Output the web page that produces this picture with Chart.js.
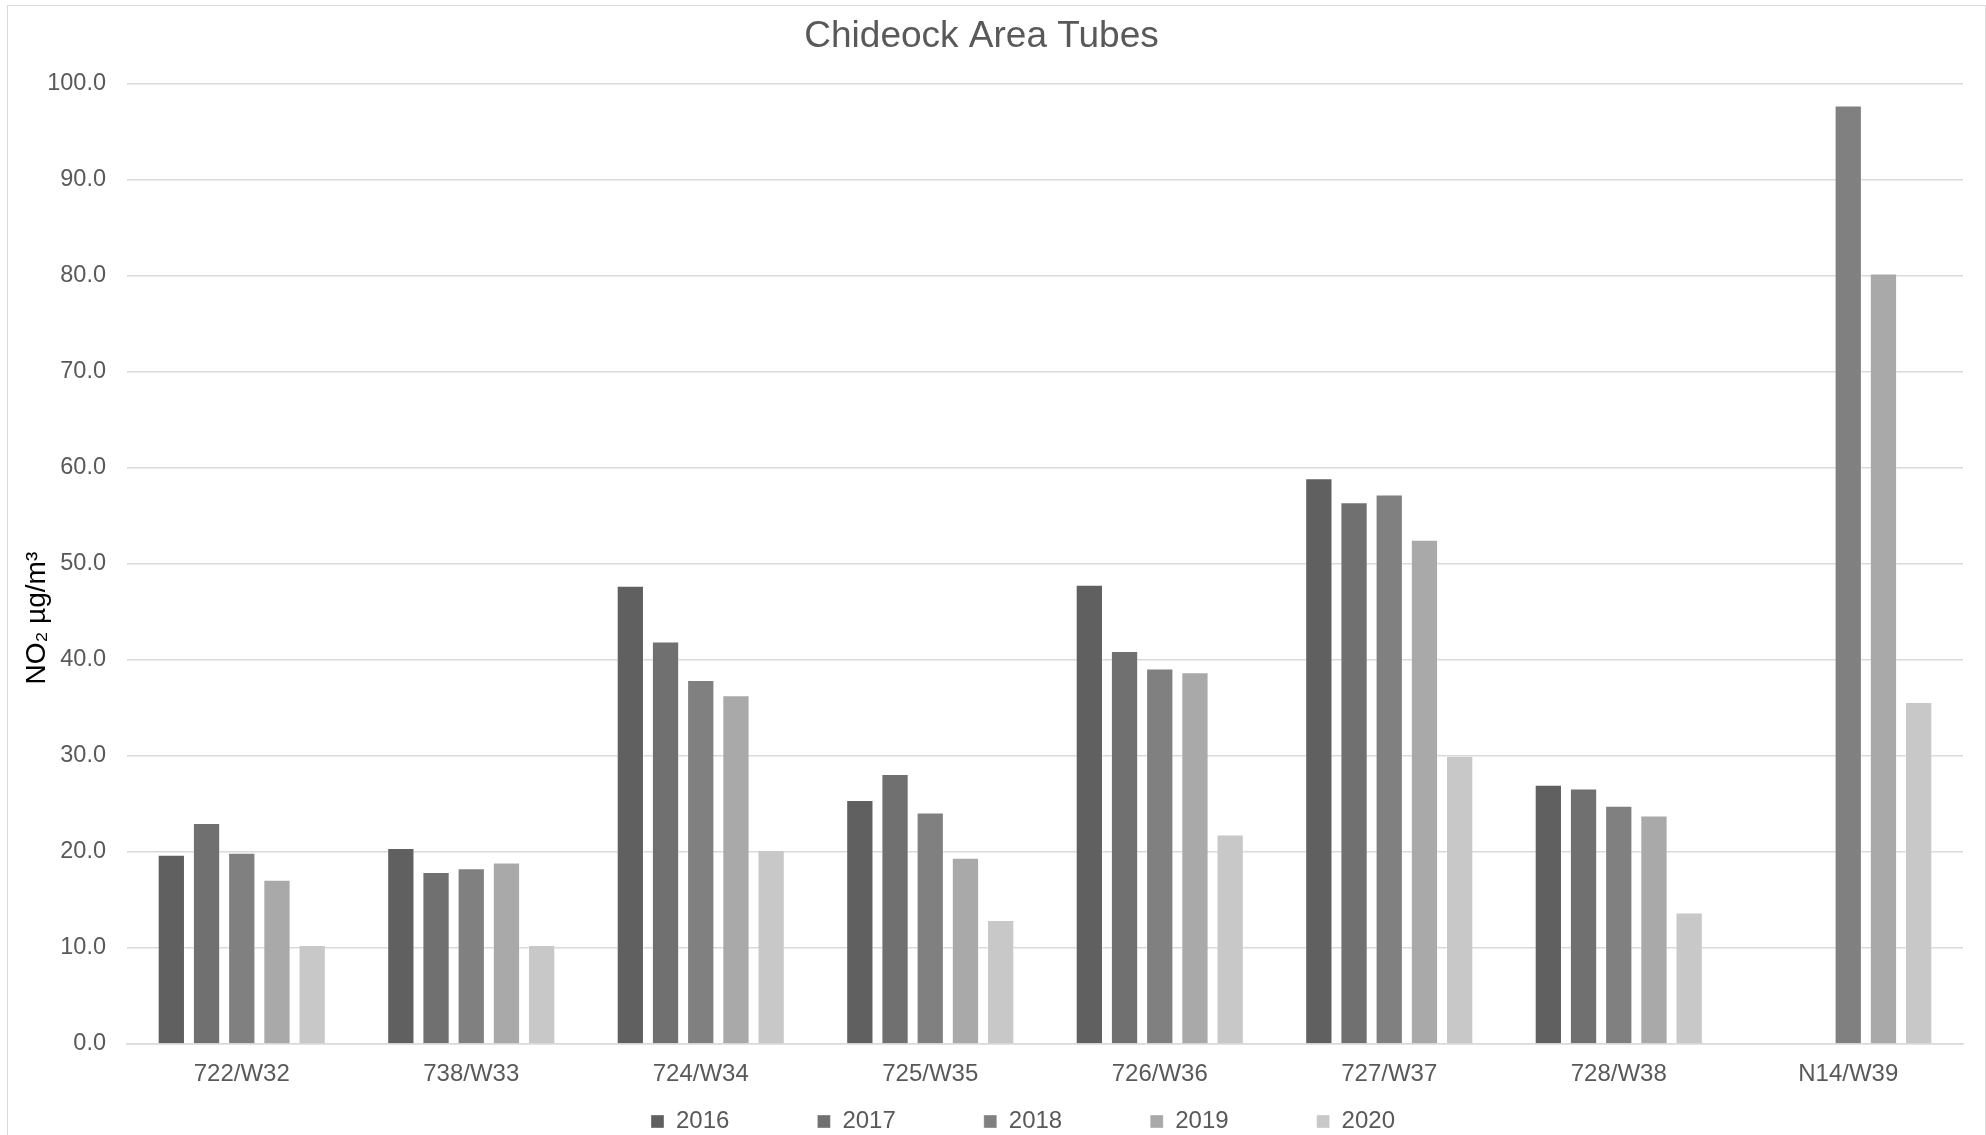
<!DOCTYPE html>
<html>
<head>
<meta charset="utf-8">
<title>Chideock Area Tubes</title>
<script src="https://cdn.jsdelivr.net/npm/chart.js@4.4.1/dist/chart.umd.min.js"></script>
<style>
    html, body {
        margin: 0;
        padding: 0;
        background: #ffffff;
        overflow: hidden;
    }
    #wrap {
        position: relative;
        width: 1986px;
        height: 1135px;
    }
    #frame {
        position: absolute;
        left: 7px;
        top: 5px;
        width: 1977px;
        height: 1200px;
        border: 1px solid #d9d9d9;
        pointer-events: none;
    }
    #tubeChart {
        position: absolute;
        left: 0;
        top: 0;
    }
</style>
</head>
<body>
<div id="wrap">
    <canvas id="tubeChart" width="1986" height="1150"></canvas>
    <div id="frame"></div>
</div>

<script>
const sites = ['722/W32', '738/W33', '724/W34', '725/W35', '726/W36', '727/W37', '728/W38', 'N14/W39'];
const years = ['2016', '2017', '2018', '2019', '2020'];

// annual mean NO2 (ug/m3) - N14/W39 had no tube in 2016/2017
const no2_2016 = [19.7, 20.4, 47.7, 25.4, 47.8, 58.9, 27.0, null];
const no2_2017 = [23.0, 17.9, 41.9, 28.1, 40.9, 56.4, 26.6, null];
const no2_2018 = [19.9, 18.3, 37.9, 24.1, 39.1, 57.2, 24.8, 97.7];
const no2_2019 = [17.1, 18.9, 36.3, 19.4, 38.7, 52.5, 23.8, 80.2];
const no2_2020 = [10.3, 10.3, 20.2, 12.9, 21.8, 30.0, 13.7, 35.6];

const yearColours = ['#606060', '#707070', '#808080', '#a9a9a9', '#c8c8c8'];

const textGrey = '#595959';
const gridGrey = '#d9d9d9';
const fontFamily = "'Liberation Sans', Arial, Helvetica, sans-serif";

// pad legend text so the items spread out like the excel one
const legendGap = ' '.repeat(12);

// nudge the legend a bit to the right of centre
const legendShift = {
    id: 'legendShift',
    afterLayout(chart) {
        if (chart.legend) {
            chart.legend.left += 83;
        }
    }
};

function buildChart() {
    const allSeries = [no2_2016, no2_2017, no2_2018, no2_2019, no2_2020];

    const datasets = years.map((year, i) => ({
        label: year,
        data: allSeries[i],
        backgroundColor: yearColours[i],
        borderColor: 'rgba(255, 255, 255, 0.35)',
        borderWidth: 1,
        categoryPercentage: 0.767,
        barPercentage: 0.775
    }));

    const ctx = document.getElementById('tubeChart').getContext('2d');

    new Chart(ctx, {
        type: 'bar',
        data: {
            labels: sites,
            datasets: datasets
        },
        options: {
            responsive: false,
            animation: false,
            devicePixelRatio: 1,
            layout: {
                padding: { left: 0, right: 23, top: 0, bottom: 6.5 }
            },
            plugins: {
                title: {
                    display: true,
                    text: 'Chideock Area Tubes',
                    color: textGrey,
                    font: { family: fontFamily, size: 37, weight: 'normal' },
                    padding: { top: 15, bottom: 24 }
                },
                legend: {
                    display: true,
                    position: 'bottom',
                    labels: {
                        color: textGrey,
                        font: { family: fontFamily, size: 24 },
                        boxWidth: 13,
                        boxHeight: 13,
                        padding: 8,
                        generateLabels(chart) {
                            const items = Chart.defaults.plugins.legend.labels.generateLabels(chart);
                            items.forEach((item, i) => {
                                if (i < items.length - 1) item.text = item.text + legendGap;
                            });
                            return items;
                        }
                    }
                },
                tooltip: { enabled: false }
            },
            scales: {
                x: {
                    grid: { display: false, drawTicks: false },
                    border: { display: true, color: gridGrey, width: 1.5 },
                    ticks: {
                        color: textGrey,
                        font: { family: fontFamily, size: 24 },
                        padding: 16,
                        maxRotation: 0
                    },
                    afterFit(scale) {
                        scale.height = 57.5;
                    }
                },
                y: {
                    min: 0,
                    max: 100,
                    grid: { color: gridGrey, lineWidth: 1.5, drawTicks: false },
                    border: { display: false },
                    ticks: {
                        stepSize: 10,
                        color: textGrey,
                        font: { family: fontFamily, size: 23.5 },
                        padding: 21,
                        callback: value => value.toFixed(1)
                    },
                    title: {
                        display: true,
                        // trailing spaces push the visible text down a little, as in the original
                        text: 'NO\u2082 \u00b5g/m\u00b3' + ' '.repeat(14),
                        color: '#000000',
                        font: { family: fontFamily, size: 28 },
                        padding: { top: 20, bottom: 0 }
                    },
                    afterFit(scale) {
                        scale.width = 127;
                    }
                }
            }
        },
        plugins: [legendShift]
    });
}

document.addEventListener('DOMContentLoaded', buildChart);
</script>
</body>
</html>
